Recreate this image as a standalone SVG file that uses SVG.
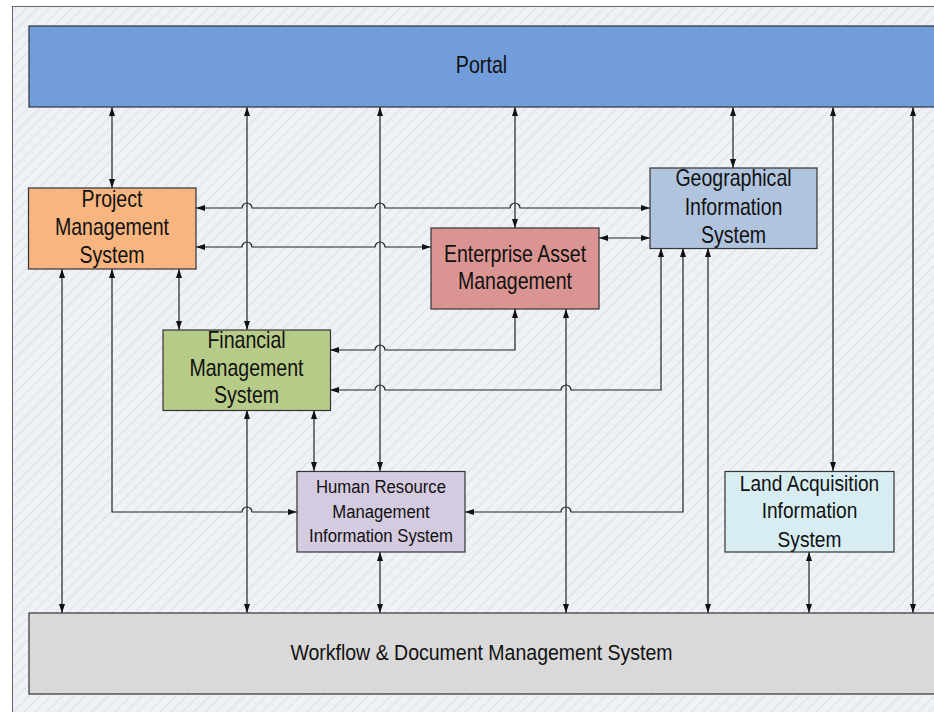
<svg xmlns="http://www.w3.org/2000/svg" width="934" height="712" viewBox="0 0 934 712">
<defs>
<pattern id="hatch" width="8" height="8" patternUnits="userSpaceOnUse" patternTransform="rotate(45)">
<rect width="8" height="8" fill="#EEF1F6"/>
<line x1="0" y1="0" x2="0" y2="8" stroke="#DCDFE6" stroke-width="2"/>
</pattern>
<marker id="arr" viewBox="0 0 9 6" refX="9" refY="3" markerWidth="9" markerHeight="6" markerUnits="userSpaceOnUse" orient="auto-start-reverse">
<path d="M0,0 L9,3 L0,6 z" fill="#111"/>
</marker>
<style>
.box{stroke:#333;stroke-width:1.2}
.lbl{font-family:"Liberation Sans",Arial,sans-serif;fill:#111;text-anchor:middle}
.c{fill:none;stroke:#222;stroke-width:1.2;marker-start:url(#arr);marker-end:url(#arr)}
.c1{fill:none;stroke:#222;stroke-width:1.2;marker-end:url(#arr)}
</style>
</defs>
<rect x="0" y="0" width="934" height="712" fill="#FFFFFF"/>
<rect x="12.5" y="6.5" width="930" height="720" fill="url(#hatch)" stroke="#666" stroke-width="1"/>

<g id="connectors">
<path class="c" d="M112,107 V188"/>
<path class="c" d="M247,107 V330"/>
<path class="c" d="M380,107 V471"/>
<path class="c" d="M515,107 V228"/>
<path class="c" d="M733,107 V168"/>
<path class="c" d="M833,107 V471"/>
<path class="c" d="M913,107 V613"/>
<path class="c" d="M196,208 H242 a5,5 0 0 1 10,0 H375 a5,5 0 0 1 10,0 H510 a5,5 0 0 1 10,0 H650"/>
<path class="c" d="M196,247 H242 a5,5 0 0 1 10,0 H375 a5,5 0 0 1 10,0 H431"/>
<path class="c" d="M599,238 H650"/>
<path class="c" d="M515,309 V350 H385 a5,5 0 0 0 -10,0 H330"/>
<path class="c" d="M661,248 V390 H571 a5,5 0 0 0 -10,0 H385 a5,5 0 0 0 -10,0 H330"/>
<path class="c" d="M683,248 V512 H571 a5,5 0 0 0 -10,0 H465"/>
<path class="c" d="M708,248 V613"/>
<path class="c" d="M566,309 V613"/>
<path class="c" d="M179,269 V330"/>
<path class="c" d="M62,269 V613"/>
<path class="c" d="M112,269 V512 H242 a5,5 0 0 1 10,0 H297"/>
<path class="c" d="M247,410 V613"/>
<path class="c" d="M314,410 V471"/>
<path class="c" d="M380,552 V613"/>
<path class="c" d="M809,552 V613"/>
</g>

<g id="portal">
<rect class="box" x="29" y="26" width="912" height="81" fill="#719DDB"/>
<g transform="translate(481.5,0) scale(0.82,1)"><text class="lbl" x="0" y="73" font-size="24">Portal</text></g>
</g>

<g id="pms">
<rect class="box" x="28.5" y="188" width="167.5" height="81" fill="#F8B57F"/>
<g transform="translate(112,0) scale(0.85,1)" class="lbl" font-size="23">
<text class="lbl" x="0" y="207">Project</text>
<text class="lbl" x="0" y="235">Management</text>
<text class="lbl" x="0" y="263">System</text>
</g>
</g>

<g id="gis">
<rect class="box" x="650" y="168" width="167" height="80.5" fill="#B1C4DE"/>
<g transform="translate(733.5,0) scale(0.85,1)" font-size="23">
<text class="lbl" x="0" y="186">Geographical</text>
<text class="lbl" x="0" y="215">Information</text>
<text class="lbl" x="0" y="243">System</text>
</g>
</g>

<g id="eam">
<rect class="box" x="431" y="228" width="168" height="81" fill="#DA9592"/>
<g transform="translate(515,0) scale(0.85,1)" font-size="23">
<text class="lbl" x="0" y="262">Enterprise Asset</text>
<text class="lbl" x="0" y="289.5">Management</text>
</g>
</g>

<g id="fms">
<rect class="box" x="163" y="330" width="167.5" height="80.5" fill="#B7CB88"/>
<g transform="translate(246.5,0) scale(0.85,1)" font-size="23">
<text class="lbl" x="0" y="348">Financial</text>
<text class="lbl" x="0" y="376">Management</text>
<text class="lbl" x="0" y="403">System</text>
</g>
</g>

<g id="hrmis">
<rect class="box" x="297" y="471.5" width="168" height="80.5" fill="#D4CBE1"/>
<g transform="translate(381,0) scale(0.88,1)" font-size="19">
<text class="lbl" x="0" y="493">Human Resource</text>
<text class="lbl" x="0" y="518">Management</text>
<text class="lbl" x="0" y="542">Information System</text>
</g>
</g>

<g id="lais">
<rect class="box" x="725" y="471.5" width="169" height="80.5" fill="#D7EDF1"/>
<g transform="translate(809.5,0) scale(0.87,1)" font-size="22">
<text class="lbl" x="0" y="491">Land Acquisition</text>
<text class="lbl" x="0" y="518.5">Information</text>
<text class="lbl" x="0" y="547">System</text>
</g>
</g>

<g id="wdms">
<rect class="box" x="29" y="613" width="912" height="81" fill="#D9D9D9"/>
<g transform="translate(481.5,0) scale(0.887,1)"><text class="lbl" x="0" y="660" font-size="22">Workflow &amp; Document Management System</text></g>
</g>
</svg>
